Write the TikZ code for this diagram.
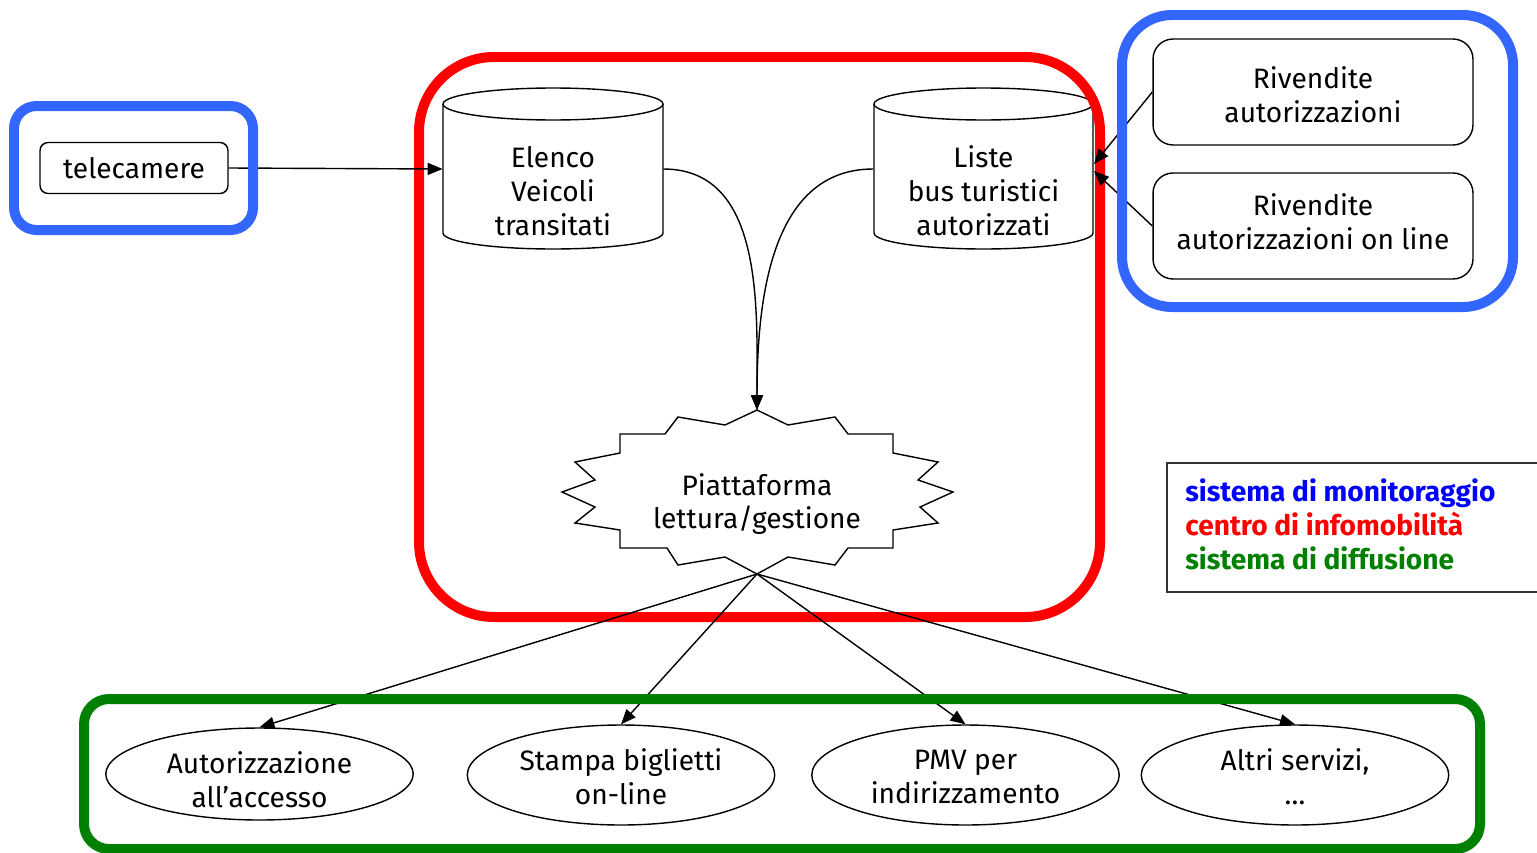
\documentclass[tikz,border=0pt]{standalone}
\usepackage{fontspec}
\setmainfont{Fira Sans}
\usetikzlibrary{arrows.meta,shapes.geometric}
\definecolor{bblue}{RGB}{51,102,255}
\definecolor{rred}{RGB}{255,0,0}
\definecolor{ggreen}{RGB}{0,128,0}
\definecolor{legblue}{RGB}{0,0,255}
\begin{document}
\begin{tikzpicture}[x=0.02cm,y=-0.02cm,
  every node/.style={font=\fontsize{16}{19.3}\selectfont, align=center, inner sep=0pt},
  thinline/.style={line width=0.8pt},
  arr/.style={thinline, -{Triangle[length=0.3cm,width=0.24cm]}},
  container/.style={line width=0.2cm},
  rbox/.style={draw, thinline, rounded corners=0.4cm, minimum width=6.4cm, minimum height=2.12cm},
  oval/.style={draw, thinline, ellipse, minimum width=6.15cm, minimum height=1.95cm},
  cyl/.style={minimum width=4.4cm, minimum height=2.9cm},
]
\useasboundingbox (0,0) rectangle (1537,852);

% cylinders
\draw[thinline, fill=white] (443,104) -- (443,233) arc[start angle=180,end angle=360,x radius=2.2cm,y radius=0.32cm] -- (663,104);
\draw[thinline] (553,104) ellipse [x radius=2.2cm,y radius=0.32cm];
\draw[thinline, fill=white] (874,104) -- (874,233) arc[start angle=180,end angle=360,x radius=2.19cm,y radius=0.32cm] -- (1093,104);
\draw[thinline] (983.5,104) ellipse [x radius=2.19cm,y radius=0.32cm];
\node[cyl] (c1) at (553,169) {};
\node[cyl] (c2) at (983.5,169) {};
\node (c1t) at (553,191) {Elenco\\Veicoli\\transitati};
\node (c2t) at (983.5,191) {Liste\\bus turistici\\autorizzati};

% telecamere
\node[draw, thinline, rounded corners=0.16cm, minimum width=3.76cm, minimum height=1.02cm] (tel) at (134,168) {telecamere};

% rivendite
\node[rbox] (r1) at (1313,92) {};
\node[rbox] (r2) at (1313,226) {};
\node (r1t) at (1313,95) {Rivendite\\autorizzazioni};
\node (r2t) at (1313,222) {Rivendite\\autorizzazioni on line};

% platform star
\draw[thinline] (757,410) -- (788,425) -- (835,417) -- (848,434) -- (893,434) -- (893,453) -- (938,462) -- (918,480) -- (953,492) -- (920,507) -- (938,523) -- (893,530) -- (893,548) -- (848,548) -- (835,565) -- (788,557) -- (757,574) -- (725,557) -- (678,565) -- (667,548) -- (620,548) -- (620,530) -- (575,523) -- (595,507) -- (562,492) -- (595,480) -- (575,462) -- (620,453) -- (620,434) -- (665,434) -- (678,417) -- (725,425) -- cycle;
\node (plat) at (757,504) {Piattaforma\\lettura/gestione};
\coordinate (ptop) at (757,410);
\coordinate (pbot) at (757,574);

% services
\node[oval, minimum height=1.84cm] (e1) at (259.5,774) {};
\node[oval, minimum height=2.0cm] (e2) at (621,775) {};
\node[oval, minimum height=2.0cm] (e3) at (965.5,775) {};
\node[oval, minimum height=2.0cm] (e4) at (1295,775) {};
\node (e1t) at (259.5,780) {Autorizzazione\\all’accesso};
\node (e2t) at (621,777) {Stampa biglietti\\on-line};
\node (e3t) at (965.5,777) {PMV per\\indirizzamento};
\node (e4t) at (1295,777) {Altri servizi,\\\ldots};

% red container
\draw[container, rred, rounded corners=1.5cm] (419,57) rectangle (1100,617);

% connectors
\coordinate (t1) at (1094,164);
\coordinate (t2) at (1094,171);
\draw[arr] (tel.east) -- (c1.west);
\draw[arr] (r1.west) -- (t1);
\draw[arr] (r2.west) -- (t2);
\draw[arr] (c1.east) to[out=0,in=90] (ptop);
\draw[arr] (c2.west) to[out=180,in=90] (ptop);
\draw[arr] (pbot) -- (e1.north);
\draw[arr] (pbot) -- (e2.north);
\draw[arr] (pbot) -- (e3.north);
\draw[arr] (pbot) -- (e4.north);

% blue and green containers
\draw[container, bblue, rounded corners=0.45cm] (14,106) rectangle (253,230);
\draw[container, bblue, rounded corners=1cm] (1122,15) rectangle (1513,307);
\draw[container, ggreen, rounded corners=0.5cm] (84,699) rectangle (1480,849);

% legend
\draw[line width=1.2pt, draw=black!80] (1167,463) rectangle (1560,592);
\node[anchor=west, align=left, font={\fontsize{16}{19.3}\selectfont\bfseries}] (leg) at (1185,524)
  {\textcolor{legblue}{sistema di monitoraggio}\\\textcolor{rred}{centro di infomobilità}\\\textcolor{ggreen}{sistema di diffusione}};
\end{tikzpicture}
\end{document}
